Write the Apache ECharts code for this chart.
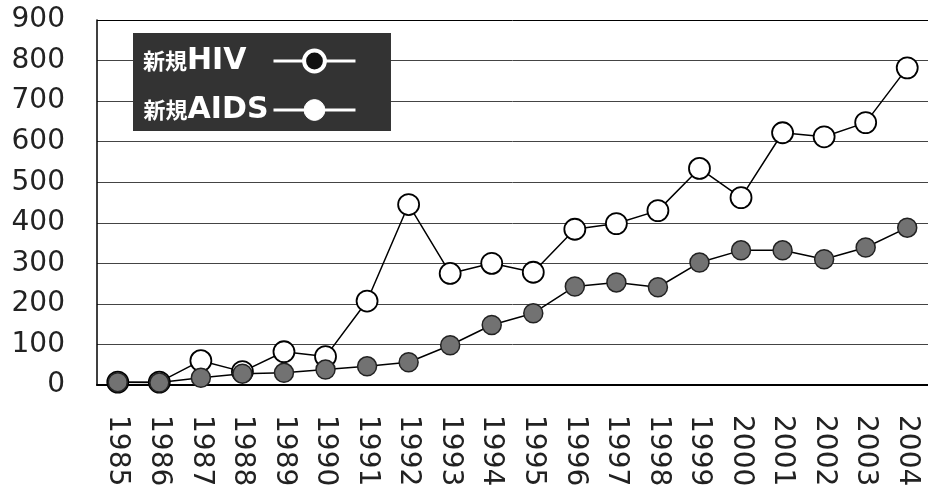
<!DOCTYPE html>
<html>
<head>
<meta charset="utf-8">
<script src="https://cdn.jsdelivr.net/npm/echarts@6/dist/echarts.min.js"></script>
<style>
  html, body { margin: 0; padding: 0; background: #fff; }
  #chart { width: 928px; height: 493px; }
</style>
</head>
<body>
<div id="chart"></div>
<script>
// 年
const years = ['1985', '1986', '1987', '1988', '1989', '1990', '1991', '1992', '1993', '1994',
  '1995', '1996', '1997', '1998', '1999', '2000', '2001', '2002', '2003', '2004'];
// 新規HIV
const hivData = [7, 7, 60, 33, 82, 70, 207, 445, 275, 300, 278, 384, 398, 430, 534, 462, 622, 612, 647, 782];
// 新規AIDS
const aidsData = [7, 6, 18, 28, 30, 38, 46, 56, 98, 148, 177, 243, 253, 241, 302, 332, 332, 310, 339, 388];
const seriesNames = ['新規HIV', '新規AIDS'];

const chart = echarts.init(document.getElementById('chart'));

// 凡例の文字（漢字とラテン文字でサイズを変える）
const legendFormatter = (name) => {
  const latin = name.replace('新規', '');
  // HIV は短いので後ろに余白を足して AIDS とアイコン位置を揃える
  const spacer = latin === 'HIV' ? '{sp| }' : '';
  return '{cjk|新規}{lat|' + latin + '}' + spacer;
};

const gridColors = ['#444', '#444', '#444', '#444', '#444', '#444', '#444', '#444', '#444', '#000'];

const options = {
  animation: false,
  grid: {
    left: 97,
    top: 20,
    width: 836,
    height: 365
  },
  // 凡例
  legend: {
    orient: 'vertical',
    left: 133,
    top: 33,
    align: 'right',
    padding: [13, 34, 6, 10],
    itemGap: 19,
    itemWidth: 82,
    itemHeight: 26,
    backgroundColor: '#333',
    formatter: legendFormatter,
    textStyle: {
      color: '#fff',
      rich: {
        cjk: {
          color: '#fff',
          fontSize: 22,
          fontWeight: 'bold',
          fontFamily: 'Noto Sans CJK JP',
          lineHeight: 26
        },
        lat: {
          color: '#fff',
          fontSize: 30,
          fontWeight: 'bold',
          fontFamily: 'DejaVu Sans',
          lineHeight: 26
        },
        sp: {
          width: 22,
          fontSize: 10,
          lineHeight: 26
        }
      }
    },
    data: [
      {
        name: seriesNames[0],
        itemStyle: { color: '#111', borderColor: '#fff', borderWidth: 4 },
        lineStyle: { color: '#fff', width: 3 }
      },
      {
        name: seriesNames[1],
        itemStyle: { color: '#fff', borderColor: '#fff', borderWidth: 1 },
        lineStyle: { color: '#fff', width: 3 }
      }
    ]
  },
  xAxis: {
    type: 'category',
    data: years,
    boundaryGap: true,
    axisLine: { lineStyle: { color: '#000', width: 2 } },
    axisTick: { inside: true, length: 5, lineStyle: { color: '#333' } },
    axisLabel: {
      rotate: -90,
      margin: 30,
      fontSize: 28,
      color: '#222',
      fontFamily: 'DejaVu Sans'
    }
  },
  yAxis: {
    type: 'value',
    min: 0,
    max: 900,
    interval: 100,
    axisLine: { show: true, lineStyle: { color: '#000', width: 1.5 } },
    axisTick: { show: false },
    splitLine: { lineStyle: { color: gridColors, width: 1 } },
    axisLabel: {
      margin: 32,
      fontSize: 28,
      color: '#222',
      fontFamily: 'DejaVu Sans'
    }
  },
  series: [
    {
      name: seriesNames[0],
      type: 'line',
      data: hivData,
      symbol: 'circle',
      symbolSize: 21,
      itemStyle: { color: '#fff', borderColor: '#000', borderWidth: 1.8 },
      lineStyle: { color: '#000', width: 1.5 },
      z: 2
    },
    {
      name: seriesNames[1],
      type: 'line',
      data: aidsData,
      symbol: 'circle',
      symbolSize: 19,
      itemStyle: { color: '#727272', borderColor: '#222', borderWidth: 1.5 },
      lineStyle: { color: '#000', width: 1.5 },
      z: 3
    }
  ]
};
chart.setOption(options);
</script>
</body>
</html>
